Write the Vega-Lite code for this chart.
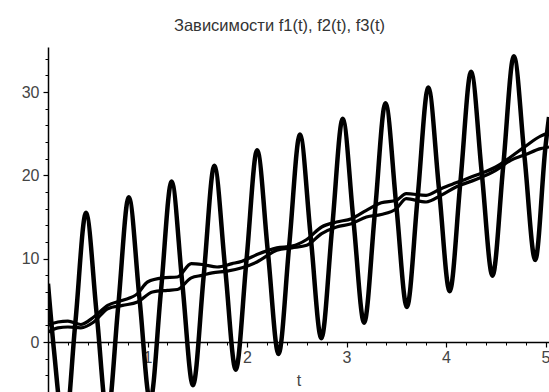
{
  "$schema": "https://vega.github.io/schema/vega-lite/v6.json",
  "autosize": {"type": "none"},
  "padding": {"left": 48, "top": 47, "right": 0, "bottom": 0},
  "width": 501,
  "height": 345,
  "background": "white",
  "title": {
    "text": "Зависимости f1(t), f2(t), f3(t)",
    "font": "Liberation Sans",
    "fontSize": 16.5,
    "fontWeight": "normal",
    "color": "#333333",
    "anchor": "middle",
    "dx": -19,
    "offset": 13
  },
  "config": {"view": {"stroke": null}},
  "datasets": {
    "f1": [
      {"t": 0, "v": 7.0}, {"t": 0.06, "v": -1.0}, {"t": 0.167, "v": -10.84}, {"t": 0.275, "v": 2.33},
      {"t": 0.382, "v": 15.5}, {"t": 0.49, "v": 3.27}, {"t": 0.597, "v": -8.96}, {"t": 0.705, "v": 4.21},
      {"t": 0.812, "v": 17.38}, {"t": 0.92, "v": 5.15}, {"t": 1.027, "v": -7.08}, {"t": 1.135, "v": 6.09},
      {"t": 1.242, "v": 19.26}, {"t": 1.35, "v": 7.03}, {"t": 1.457, "v": -5.2}, {"t": 1.565, "v": 7.97},
      {"t": 1.672, "v": 21.14}, {"t": 1.78, "v": 8.91}, {"t": 1.887, "v": -3.32}, {"t": 1.995, "v": 9.85},
      {"t": 2.102, "v": 23.02}, {"t": 2.21, "v": 10.79}, {"t": 2.317, "v": -1.44}, {"t": 2.425, "v": 11.73},
      {"t": 2.532, "v": 24.9}, {"t": 2.64, "v": 12.67}, {"t": 2.747, "v": 0.44}, {"t": 2.855, "v": 13.61},
      {"t": 2.962, "v": 26.78}, {"t": 3.07, "v": 14.55}, {"t": 3.177, "v": 2.32}, {"t": 3.285, "v": 15.49},
      {"t": 3.392, "v": 28.66}, {"t": 3.5, "v": 16.43}, {"t": 3.607, "v": 4.2}, {"t": 3.715, "v": 17.37},
      {"t": 3.822, "v": 30.54}, {"t": 3.93, "v": 18.31}, {"t": 4.037, "v": 6.08}, {"t": 4.145, "v": 19.25},
      {"t": 4.252, "v": 32.42}, {"t": 4.36, "v": 20.19}, {"t": 4.467, "v": 7.96}, {"t": 4.575, "v": 21.13},
      {"t": 4.682, "v": 34.3}, {"t": 4.79, "v": 22.07}, {"t": 4.897, "v": 9.84}, {"t": 5.0, "v": 23.5},
      {"t": 5.035, "v": 27.0}
    ],
    "f2": [
      {"t": 0, "v": 2.0}, {"t": 0.1, "v": 2.4}, {"t": 0.2, "v": 2.5}, {"t": 0.33, "v": 2.1},
      {"t": 0.46, "v": 3.0}, {"t": 0.6, "v": 4.4}, {"t": 0.75, "v": 5.0}, {"t": 0.9, "v": 5.8},
      {"t": 1.0, "v": 7.2}, {"t": 1.15, "v": 7.7}, {"t": 1.3, "v": 7.8}, {"t": 1.44, "v": 9.4},
      {"t": 1.55, "v": 9.3}, {"t": 1.7, "v": 9.0}, {"t": 1.85, "v": 9.4}, {"t": 1.95, "v": 9.7},
      {"t": 2.1, "v": 10.5}, {"t": 2.3, "v": 11.3}, {"t": 2.45, "v": 11.5}, {"t": 2.6, "v": 12.3},
      {"t": 2.75, "v": 13.8}, {"t": 2.9, "v": 14.4}, {"t": 3.05, "v": 14.8}, {"t": 3.2, "v": 15.8},
      {"t": 3.35, "v": 16.7}, {"t": 3.5, "v": 17.0}, {"t": 3.6, "v": 17.8}, {"t": 3.8, "v": 17.6},
      {"t": 3.95, "v": 18.4}, {"t": 4.1, "v": 19.1}, {"t": 4.3, "v": 20.0}, {"t": 4.5, "v": 21.0},
      {"t": 4.65, "v": 22.2}, {"t": 4.8, "v": 23.5}, {"t": 4.95, "v": 24.7}, {"t": 5.035, "v": 25.1}
    ],
    "f3": [
      {"t": 0, "v": 1.2}, {"t": 0.1, "v": 1.7}, {"t": 0.2, "v": 1.8}, {"t": 0.33, "v": 1.7},
      {"t": 0.46, "v": 2.4}, {"t": 0.6, "v": 4.0}, {"t": 0.75, "v": 4.4}, {"t": 0.9, "v": 4.8},
      {"t": 1.05, "v": 6.0}, {"t": 1.2, "v": 6.2}, {"t": 1.3, "v": 6.3}, {"t": 1.44, "v": 7.7},
      {"t": 1.55, "v": 8.0}, {"t": 1.65, "v": 8.3}, {"t": 1.8, "v": 8.5}, {"t": 1.95, "v": 8.9},
      {"t": 2.1, "v": 9.6}, {"t": 2.3, "v": 11.0}, {"t": 2.45, "v": 11.3}, {"t": 2.6, "v": 11.6},
      {"t": 2.75, "v": 13.0}, {"t": 2.9, "v": 13.8}, {"t": 3.05, "v": 14.2}, {"t": 3.2, "v": 15.0},
      {"t": 3.35, "v": 15.3}, {"t": 3.5, "v": 16.0}, {"t": 3.6, "v": 17.2}, {"t": 3.8, "v": 16.8},
      {"t": 3.95, "v": 17.6}, {"t": 4.1, "v": 18.6}, {"t": 4.3, "v": 19.5}, {"t": 4.5, "v": 20.6},
      {"t": 4.65, "v": 21.8}, {"t": 4.8, "v": 22.5}, {"t": 4.95, "v": 23.2}, {"t": 5.035, "v": 23.4}
    ]
  },
  "resolve": {"axis": {"x": "independent", "y": "independent"}},
  "layer": [
    {
      "data": {"name": "f2"},
      "mark": {"type": "line", "color": "black", "strokeWidth": 3.2, "interpolate": "monotone", "clip": true},
      "encoding": {
        "x": {"field": "t", "type": "quantitative", "scale": {"domain": [0, 5.035], "nice": false, "zero": false},
          "axis": {"orient": "bottom", "offset": -50, "values": [0.2,0.4,0.6,0.8,1.2,1.4,1.6,1.8,2.2,2.4,2.6,2.8,3.2,3.4,3.6,3.8,4.2,4.4,4.6,4.8],
            "tickSize": 3, "tickColor": "black", "tickWidth": 1, "labels": false, "domain": false, "grid": false, "title": null}},
        "y": {"field": "v", "type": "quantitative", "scale": {"domain": [-6.0, 35.4], "nice": false, "zero": false},
          "axis": {"orient": "left", "values": [-6,-4,-2,2,4,6,8,12,14,16,18,22,24,26,28,32,34],
            "tickSize": 3, "tickColor": "black", "tickWidth": 1, "labels": false, "domain": false, "grid": false, "title": null}}
      }
    },
    {
      "data": {"name": "f3"},
      "mark": {"type": "line", "color": "black", "strokeWidth": 3.2, "interpolate": "monotone", "clip": true},
      "encoding": {
        "x": {"field": "t", "type": "quantitative", "scale": {"domain": [0, 5.035], "nice": false, "zero": false}, "axis": null},
        "y": {"field": "v", "type": "quantitative", "scale": {"domain": [-6.0, 35.4], "nice": false, "zero": false}, "axis": null}
      }
    },
    {
      "data": {"name": "f1"},
      "mark": {"type": "line", "color": "black", "strokeWidth": 4.5, "interpolate": "monotone", "clip": true},
      "encoding": {
        "x": {"field": "t", "type": "quantitative", "scale": {"domain": [0, 5.035], "nice": false, "zero": false},
          "axis": {"orient": "bottom", "offset": -50, "values": [1,2,3,4,5], "format": "d",
            "tickSize": 5, "tickColor": "black", "tickWidth": 1.2, "domainColor": "black", "domainWidth": 1.5,
            "labelFont": "Liberation Sans", "labelFontSize": 16, "labelColor": "#444444", "labelPadding": 2, "labelFlush": false,
            "grid": false, "title": "t", "titleFont": "Liberation Sans", "titleFontSize": 16, "titleFontWeight": "normal",
            "titleColor": "#444444", "titlePadding": 7}},
        "y": {"field": "v", "type": "quantitative", "scale": {"domain": [-6.0, 35.4], "nice": false, "zero": false},
          "axis": {"orient": "left", "values": [0,10,20,30], "format": "d",
            "tickSize": 5, "tickColor": "black", "tickWidth": 1.2, "domainColor": "black", "domainWidth": 1.5,
            "labelFont": "Liberation Sans", "labelFontSize": 16, "labelColor": "#444444", "labelPadding": 4, "labelFlush": false,
            "grid": false, "title": null}}
      }
    }
  ]
}
